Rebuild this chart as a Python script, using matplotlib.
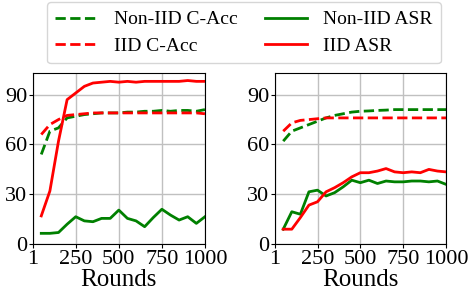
import matplotlib
matplotlib.use("Agg")
import matplotlib.pyplot as plt

rounds = list(range(50, 1001, 50))

# left panel
left_noniid_acc = [54, 68, 70, 76, 77, 78, 78.5, 79, 79, 79, 79.5, 79.5, 80, 80, 80.5, 80, 80.5, 80.5, 80, 81]
left_iid_acc = [66, 72, 75, 77.5, 78, 78.5, 79, 79, 79, 79, 79, 79, 79, 79, 79, 79, 79, 79, 79, 78.5]
left_noniid_asr = [6.5, 6.5, 7, 12, 16.5, 14, 13.5, 15.5, 15.5, 20.5, 15.5, 14, 10.5, 16, 21, 17.5, 14.5, 16.5, 12.5, 16.5]
left_iid_asr = [17, 32, 62, 87, 91, 95, 97, 97.5, 98, 97.5, 98, 97.5, 98, 98, 98, 98, 98, 98.5, 98, 98]

# right panel
right_noniid_acc = [62, 68, 70, 72, 74, 76, 77.5, 78.5, 79.5, 80, 80.2, 80.5, 80.7, 81, 81, 81, 81, 81, 81, 81]
right_iid_acc = [68, 73, 74.5, 75, 75.5, 76, 76, 76, 76, 76, 76, 76, 76, 76, 76, 76, 76, 76, 76, 76]
right_noniid_asr = [9, 19.5, 18, 31.5, 32.5, 29, 31, 34.5, 38.5, 37, 38.5, 36.5, 38, 37.5, 37.5, 38, 38, 37.5, 38, 36]
right_iid_asr = [9, 9, 16, 23.5, 25.5, 31.5, 34, 37, 40.5, 43, 43, 44, 45.5, 43.5, 43, 43.5, 43, 45, 44, 43.5]

xticks = [1, 250, 500, 750, 1000]
yticks = [0, 30, 60, 90]

plt.rcParams["font.family"] = ["Liberation Serif", "DejaVu Serif"]

fig = plt.figure(figsize=(4.69, 2.97), dpi=100)
ax1 = fig.add_axes([0.070, 0.178, 0.367, 0.576])
ax2 = fig.add_axes([0.586, 0.178, 0.365, 0.576])

panels = [
    (ax1, left_noniid_acc, left_iid_acc, left_noniid_asr, left_iid_asr),
    (ax2, right_noniid_acc, right_iid_acc, right_noniid_asr, right_iid_asr),
]
for ax, na, ia, ns, is_ in panels:
    ax.plot(rounds, na, color="green", ls="--", lw=2, label="Non-IID C-Acc")
    ax.plot(rounds, ia, color="red", ls="--", lw=2, label="IID C-Acc")
    ax.plot(rounds, ns, color="green", ls="-", lw=2, label="Non-IID ASR")
    ax.plot(rounds, is_, color="red", ls="-", lw=2, label="IID ASR")
    ax.set_xlim(1, 1000)
    ax.set_ylim(0, 103)
    ax.set_xticks(xticks)
    ax.set_yticks(yticks)
    ax.tick_params(labelsize=16, length=3, pad=1)
    ax.grid(True, color="#c0c0c0", lw=1)
    ax.set_axisbelow(True)
    ax.set_xlabel("Rounds", fontsize=18, labelpad=0)

handles, labels = ax1.get_legend_handles_labels()
fig.legend(handles, labels, ncol=2, loc="upper center", bbox_to_anchor=(0.52, 1.0),
           fontsize=14, handlelength=2.2, columnspacing=1.4, labelspacing=0.45,
           borderpad=0.45, handletextpad=0.8, borderaxespad=0.1)

fig.savefig("out.png", dpi=100)
